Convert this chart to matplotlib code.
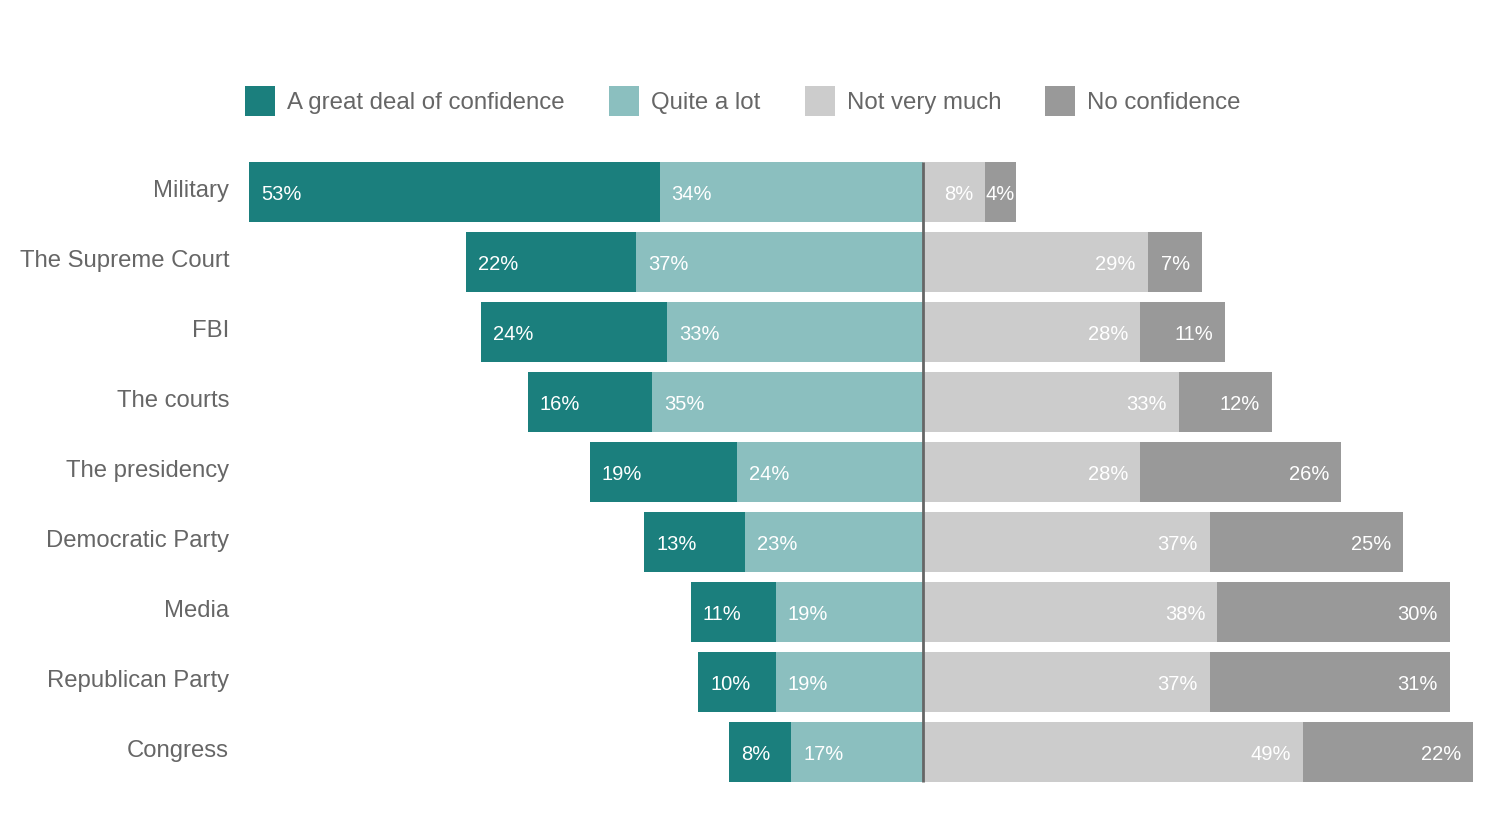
import matplotlib
matplotlib.use("Agg")
import matplotlib.pyplot as plt
from matplotlib.patches import Rectangle

plt.rcParams["font.family"] = ["Liberation Sans", "DejaVu Sans"]

DARK_TEAL  = "#1b7f7d"
LIGHT_TEAL = "#8bbfbf"
LIGHT_GRAY = "#cccccc"
DARK_GRAY  = "#999999"
TEXT_GRAY  = "#666666"

institutions = ["Military", "The Supreme Court", "FBI", "The courts",
                "The presidency", "Democratic Party", "Media",
                "Republican Party", "Congress"]
great_deal    = [53, 22, 24, 16, 19, 13, 11, 10, 8]
quite_a_lot   = [34, 37, 33, 35, 24, 23, 19, 19, 17]
not_very_much = [8, 29, 28, 33, 28, 37, 38, 37, 49]
no_confidence = [4, 7, 11, 12, 26, 25, 30, 31, 22]
series_names  = ["A great deal of confidence", "Quite a lot",
                 "Not very much", "No confidence"]

W, H = 1490, 838
fig = plt.figure(figsize=(W / 100, H / 100), dpi=100)
# axes: x from 249 to 1473 px, y from 157 to 787 px
ax = fig.add_axes([249 / W, 1 - 787 / H, (1473 - 249) / W, (787 - 157) / H])
ax.set_xlim(-87, 71)
ax.set_ylim(8.5, -0.5)
ax.axis("off")

px = (1473 - 249) / (71 + 87)   # pixels per percent
pad = 12 / px
bh = 60 / 70

ys = list(range(len(institutions)))
for i in ys:
    q, g = quite_a_lot[i], great_deal[i]
    n, c = not_very_much[i], no_confidence[i]
    ax.barh(i, -q, left=0, height=bh, color=LIGHT_TEAL, linewidth=0)
    ax.barh(i, -g, left=-q, height=bh, color=DARK_TEAL, linewidth=0)
    ax.barh(i, n, left=0, height=bh, color=LIGHT_GRAY, linewidth=0)
    ax.barh(i, c, left=n, height=bh, color=DARK_GRAY, linewidth=0)

    kw = dict(va="center", color="white", fontsize=14.5)
    yt = i + 0.035
    ax.text(-q - g + pad, yt, f"{g}%", ha="left", **kw)
    ax.text(-q + pad, yt, f"{q}%", ha="left", **kw)
    ax.text(n - pad, yt, f"{n}%", ha="right", **kw)
    ax.text(n + c - (pad if c > 5 else 1 / px), yt, f"{c}%",
            ha="right", **kw)

    fig.text(229 / W, 1 - (191 + 70 * i) / H, institutions[i],
             ha="right", va="center", fontsize=17.2, color=TEXT_GRAY)

ax.plot([0, 0], [-0.5 + (1 - bh) / 2, 8.5 - (1 - bh) / 2],
        color="#666666", linewidth=2, solid_capstyle="butt")

# legend drawn by hand
colors = [DARK_TEAL, LIGHT_TEAL, LIGHT_GRAY, DARK_GRAY]
sq_x = [245, 609, 805, 1045]
for name, col, x0 in zip(series_names, colors, sq_x):
    fig.patches.append(Rectangle((x0 / W, 1 - 116 / H), 30 / W, 30 / H,
                                 transform=fig.transFigure, color=col,
                                 linewidth=0))
    fig.text((x0 + 42) / W, 1 - 103 / H, name, ha="left", va="center",
             fontsize=17.3, color=TEXT_GRAY)

fig.savefig("out.png", dpi=100, facecolor="white")
